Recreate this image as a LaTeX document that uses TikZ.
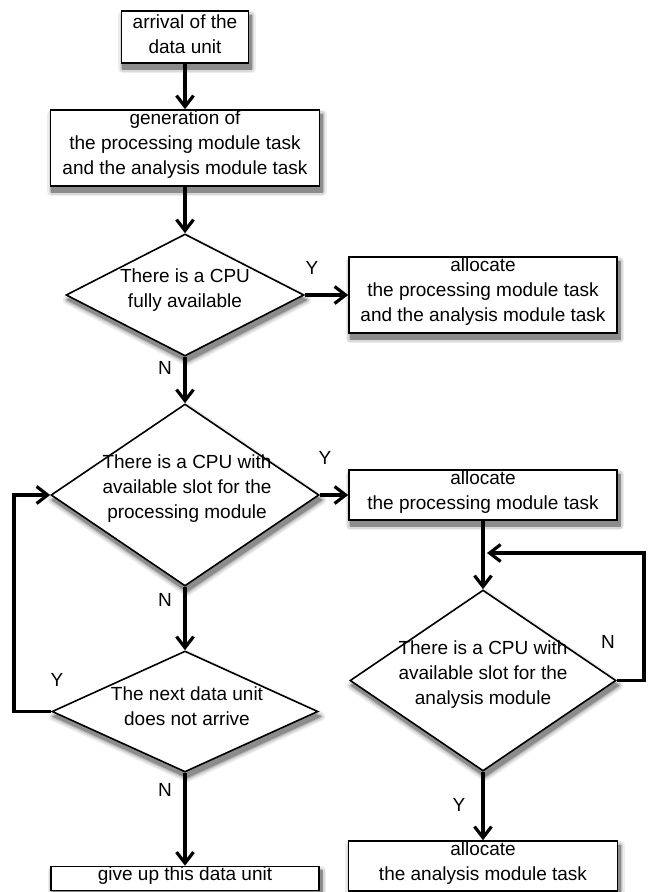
\documentclass[tikz,border=0pt]{standalone}
\usepackage{fontspec}
\setmainfont{Liberation Sans}
\usetikzlibrary{arrows.meta,shapes.geometric,backgrounds}
\newcommand\myshrect[1]{%
  \foreach \c/\w in {7/9pt,15/6pt,27/3pt,45/0.5pt}{%
    \filldraw[black!\c,line width=\w,line join=round]
      ([shift={(2pt,-5pt)}]#1.south west) rectangle ([shift={(2pt,-5pt)}]#1.north east);}}
\newcommand\myshdia[1]{%
  \foreach \c/\w in {7/9pt,15/6pt,27/3pt,45/0.5pt}{%
    \filldraw[black!\c,line width=\w,line join=round]
      ([shift={(2pt,-5pt)}]#1.north) -- ([shift={(2pt,-5pt)}]#1.east) --
      ([shift={(2pt,-5pt)}]#1.south) -- ([shift={(2pt,-5pt)}]#1.west) -- cycle;}}
\begin{document}
\begin{tikzpicture}[x=1pt,y=-1pt,
  every node/.style={font=\fontsize{19}{25}\selectfont},
  box/.style={draw,line width=1.6pt,fill=white,inner sep=0pt},
  dia/.style={diamond,draw,line width=1.6pt,fill=white,inner sep=0pt},
  txt/.style={align=center,inner sep=0pt},
  lab/.style={inner sep=0pt},
  arr/.style={line width=3.2pt,-{Straight Barb[length=11pt,width=17pt,line width=3.2pt]}}
]
\useasboundingbox (0,0) rectangle (651,892);
% shapes
\node[box,minimum width=127pt,minimum height=52pt] (b1) at (185,37) {};
\node[box,minimum width=269pt,minimum height=76pt] (b2) at (185,148) {};
\node[dia,minimum width=238pt,minimum height=122pt] (d1) at (185,295) {};
\node[box,minimum width=268pt,minimum height=76pt] (b3) at (483,295) {};
\node[dia,minimum width=268pt,minimum height=182pt] (d2) at (185,495) {};
\node[box,minimum width=268pt,minimum height=50pt] (b4) at (483,495) {};
\node[dia,minimum width=266pt,minimum height=121pt] (d3) at (185,711.5) {};
\node[box,minimum width=268pt,minimum height=24pt] (b5) at (185,878.5) {};
\node[dia,minimum width=266pt,minimum height=181pt] (d4) at (483,680.5) {};
\node[box,minimum width=269pt,minimum height=50pt] (b6) at (483,866) {};
% shadows
\begin{scope}[on background layer]
\myshrect{b1}\myshrect{b2}\myshrect{b3}\myshrect{b4}\myshrect{b5}\myshrect{b6}
\myshdia{d1}\myshdia{d2}\myshdia{d3}\myshdia{d4}
\end{scope}
% texts
\node[txt] (t1) at (185,34) {arrival of the\\data unit};
\node[txt] (t2) at (185,145) {generation of\\the processing module task\\and the analysis module task};
\node[txt] (t3) at (185,290) {There is a CPU\\fully available};
\node[txt] (t4) at (483,292) {allocate\\the processing module task\\and the analysis module task};
\node[txt] (t5) at (187,489) {There is a CPU with\\available slot for the\\processing module};
\node[txt] (t6) at (483,492) {allocate\\the processing module task};
\node[txt] (t7) at (187,706) {The next data unit\\does not arrive};
\node[txt] (t8) at (483,675) {There is a CPU with\\available slot for the\\analysis module};
\node[txt] (t9) at (185,876) {give up this data unit};
\node[txt] (t10) at (483,863) {allocate\\the analysis module task};
% labels
\node[lab] (y1) at (312,268) {Y};
\node[lab] (n1) at (165,368) {N};
\node[lab] (y2) at (325,458) {Y};
\node[lab] (n2) at (165,600) {N};
\node[lab] (y3) at (57,680) {Y};
\node[lab] (n3) at (165,790) {N};
\node[lab] (n4) at (608,642) {N};
\node[lab] (y4) at (459,805) {Y};
% helper coordinates
\coordinate (c1) at (14,711.5);
\coordinate (c2) at (14,495);
\coordinate (c3) at (644,680.5);
\coordinate (c4) at (644,553);
\coordinate (c5) at (487,553);
% connectors
\draw[arr] (b1.south) -- (b1.south |- b2.north);
\draw[arr] (b2.south) -- (b2.south |- d1.north);
\draw[arr] (d1.east) -- (b3.west);
\draw[arr] (d1.south) -- (d2.north);
\draw[arr] (d2.east) -- (b4.west);
\draw[arr] (d2.south) -- (d3.north);
\draw[arr] (d3.west) -- (c1) -- (c2) -- (d2.west);
\draw[arr] (d3.south) -- (b5.north);
\draw[arr] (b4.south) -- (d4.north);
\draw[arr] (d4.east) -- (c3) -- (c4) -- (c5);
\draw[arr] (d4.south) -- (b6.north);
\end{tikzpicture}
\end{document}
